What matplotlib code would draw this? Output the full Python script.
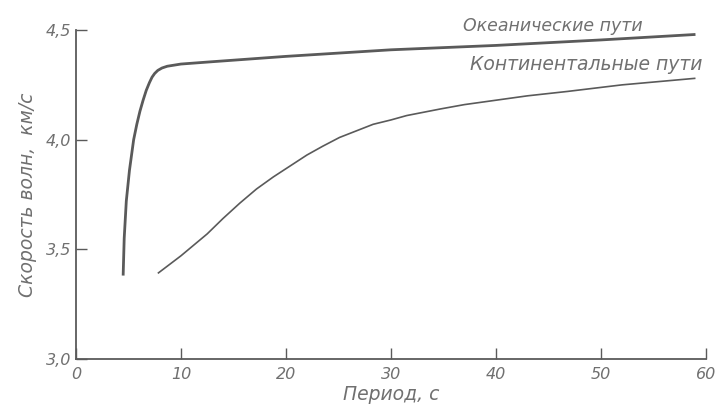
import matplotlib
matplotlib.use("Agg")
import matplotlib.pyplot as plt

# -----------------------------
# Data
# -----------------------------
ocean_period = [4.5, 4.6, 4.8, 5.1, 5.5, 5.8, 6.1, 6.4, 6.7, 7.0, 7.25, 7.5, 7.8, 8.2,
                8.7, 10, 12.8, 20, 30, 40, 50, 59]
ocean_speed = [3.38, 3.55, 3.72, 3.86, 4.00, 4.07, 4.13, 4.18, 4.225, 4.26, 4.285, 4.302,
               4.316, 4.327, 4.335, 4.345, 4.355, 4.38, 4.41, 4.43, 4.455, 4.48]

cont_period = [7.8, 10, 12.5, 14, 15.6, 17.2, 18.8, 20.4, 22, 23.5, 25.1, 26.7, 28.3,
               30, 31.5, 34.7, 37, 40, 43, 46.8, 52, 59]
cont_speed = [3.39, 3.47, 3.57, 3.64, 3.71, 3.775, 3.83, 3.88, 3.93, 3.97, 4.01, 4.04,
              4.07, 4.09, 4.11, 4.14, 4.16, 4.18, 4.20, 4.22, 4.25, 4.28]

x_ticks = [0, 10, 20, 30, 40, 50, 60]
y_ticks = [3.0, 3.5, 4.0, 4.5]
y_tick_labels = ["3,0", "3,5", "4,0", "4,5"]

INK = "#5a5a5a"
TXT = "#707070"

# -----------------------------
# Figure
# -----------------------------
fig = plt.figure(figsize=(7.16, 4.12), dpi=100)
ax = fig.add_axes([0.106, 0.129, 0.880, 0.798])

ax.plot(ocean_period, ocean_speed, color=INK, lw=2.0, solid_capstyle="butt",
        solid_joinstyle="round")
ax.plot(cont_period, cont_speed, color=INK, lw=1.2, solid_capstyle="butt",
        solid_joinstyle="round")

ax.set_xlim(0, 60)
ax.set_ylim(3.0, 4.5)

for s in ["top", "right"]:
    ax.spines[s].set_visible(False)
for s in ["left", "bottom"]:
    ax.spines[s].set_color(INK)
    ax.spines[s].set_linewidth(1.3)

ax.set_xticks(x_ticks)
ax.set_xticklabels([str(t) for t in x_ticks])
ax.set_yticks(y_ticks)
ax.set_yticklabels(y_tick_labels)
ax.tick_params(direction="in", length=8, width=1.0, color=INK,
               labelcolor=TXT, labelsize=11.5)
ax.tick_params(axis="x", pad=6)
for lab in ax.get_xticklabels() + ax.get_yticklabels():
    lab.set_style("italic")

ax.set_xlabel("Период, с", fontsize=13.5, style="italic", color=TXT, labelpad=2)
ax.set_ylabel("Скорость волн,  км/с", fontsize=13.5, style="italic", color=TXT, labelpad=6)

ax.text(36.9, 4.52, "Океанические пути", fontsize=12.5, style="italic", color=TXT,
        ha="left", va="center", clip_on=False)
ax.text(37.5, 4.345, "Континентальные пути", fontsize=13.5, style="italic", color=TXT,
        ha="left", va="center")

fig.savefig("out.png", dpi=100)
